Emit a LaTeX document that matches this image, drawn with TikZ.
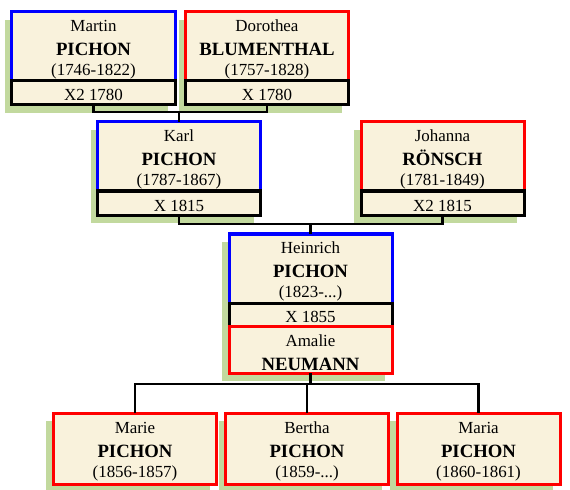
\documentclass[tikz,border=0pt]{standalone}
\usepackage{fontspec}
\setmainfont{Liberation Serif}
\usepackage{tikz}
\usetikzlibrary{positioning, calc, backgrounds}
\definecolor{paper}{RGB}{249,242,220}
\definecolor{leaf}{RGB}{194,217,158}
\definecolor{male}{RGB}{0,0,255}
\definecolor{female}{RGB}{255,0,0}
\newcommand{\pname}[3]{\rule{0pt}{18bp}#1\\[5bp]{\bfseries\fontsize{18.8}{20}\selectfont #2}\\[1bp]#3}

\begin{document}
\begin{tikzpicture}[x=1bp,y=-1bp,
		person/.style={draw,fill=paper,line width=3bp,outer sep=0pt,inner sep=0pt,
			minimum width=163bp,minimum height=69bp,align=center,
			font=\fontsize{17}{19}\selectfont},
		husband/.style={person,draw=male},
		wife/.style={person,draw=female},
		wedding/.style={draw=black,fill=paper,line width=3bp,outer sep=0pt,inner sep=0pt,
			minimum width=163bp,minimum height=24bp,text height=16bp,text depth=0bp,
			font=\fontsize{17}{19}\selectfont},
		shade/.style={fill=leaf},
		link/.style={draw,line width=2.8bp}]
	\useasboundingbox (0,0) rectangle (570,490);
	% first generation
	\node[husband] (martin) at (93.5,46.5) {\pname{Martin}{PICHON}{(1746-1822)}};
	\node[wedding,below=0pt of martin] (martinX) {X2 1780};
	\node[wife] (dorothea) at (267,46.5) {\pname{Dorothea}{BLUMENTHAL}{(1757-1828)}};
	\node[wedding,below=0pt of dorothea] (dorotheaX) {X 1780};
	% second generation
	\node[husband] (karl) at (179,156.5) {\pname{Karl}{PICHON}{(1787-1867)}};
	\node[wedding,below=0pt of karl] (karlX) {X 1815};
	\node[wife] (johanna) at (442.5,156.5) {\pname{Johanna}{RÖNSCH}{(1781-1849)}};
	\node[wedding,below=0pt of johanna] (johannaX) {X2 1815};
	% third generation
	\node[husband] (heinrich) at (310.5,268.5) {\pname{Heinrich}{PICHON}{(1823-...)}};
	\node[wedding,minimum height=23bp,below=0pt of heinrich] (heinrichX) {X 1855};
	\node[wife,minimum height=47bp,below=0pt of heinrichX] (amalie)
		{\rule{0pt}{18bp}Amalie\\[5bp]{\bfseries\fontsize{18.8}{20}\selectfont NEUMANN}};
	% children
	\node[wife,minimum height=71bp] (marie) at (135,448.5) {\pname{Marie}{PICHON}{(1856-1857)}};
	\node[wife,minimum height=71bp] (bertha) at (307,448.5) {\pname{Bertha}{PICHON}{(1859-...)}};
	\node[wife,minimum height=71bp] (maria) at (478.5,448.5) {\pname{Maria}{PICHON}{(1860-1861)}};
	% links
	\draw[link] (martinX.south) -- ++(0,7) coordinate (mbar) -| (dorotheaX.south);
	\draw[link] (karl.north) -- (karl.north |- mbar);
	\draw[link] (karlX.south) -- ++(0,9) coordinate (kbar) -| (johannaX.south);
	\draw[link] (heinrich.north) -- (heinrich.north |- kbar);
	\draw[link] (amalie.south) -- ++(0,11) coordinate (hbar);
	\draw[link] (marie.north) |- (maria.north |- hbar) -- (maria.north);
	\draw[link] (bertha.north) -- (bertha.north |- hbar);
	% shadows
	\begin{scope}[on background layer]
		\fill[shade] ($(martin.north west)+(-7,8)$) rectangle ($(martinX.south east)+(-7,8)$);
		\fill[shade] ($(dorothea.north west)+(-7,8)$) rectangle ($(dorotheaX.south east)+(-7,8)$);
		\fill[shade] ($(karl.north west)+(-7,8)$) rectangle ($(karlX.south east)+(-7,8)$);
		\fill[shade] ($(johanna.north west)+(-7,8)$) rectangle ($(johannaX.south east)+(-7,8)$);
		\fill[shade] ($(heinrich.north west)+(-7,8)$) rectangle ($(amalie.south east)+(-7,8)$);
		\fill[shade] ($(marie.north west)+(-7,8)$) rectangle ($(marie.south east)+(-7,8)$);
		\fill[shade] ($(bertha.north west)+(-7,8)$) rectangle ($(bertha.south east)+(-7,8)$);
		\fill[shade] ($(maria.north west)+(-7,8)$) rectangle ($(maria.south east)+(-7,8)$);
	\end{scope}
\end{tikzpicture}
\end{document}
